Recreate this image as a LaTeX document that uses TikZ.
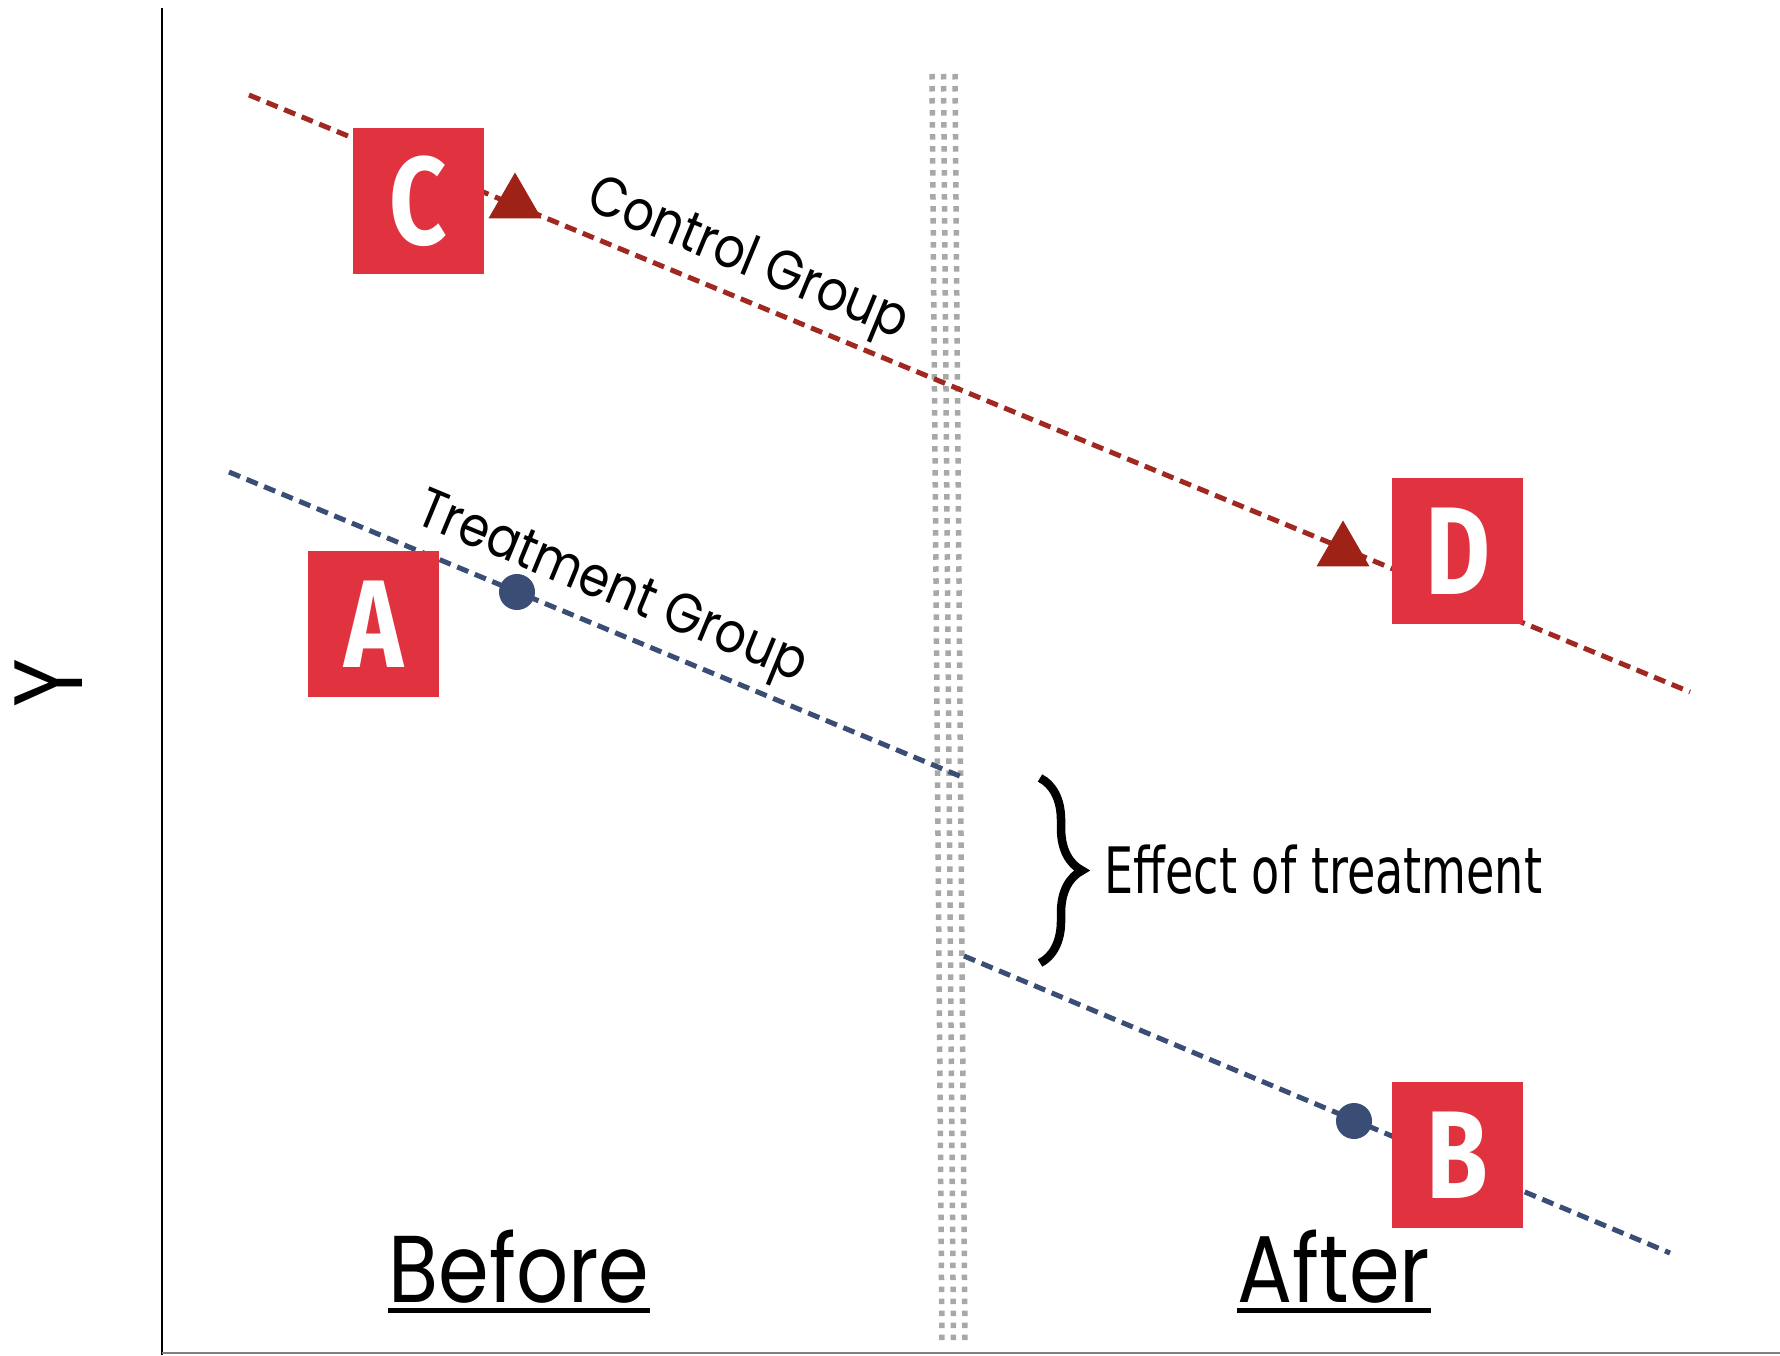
\documentclass[tikz,border=0pt]{standalone}
\usepackage{fontspec}
\usetikzlibrary{decorations.pathreplacing,shapes.geometric}
\newfontfamily\gothic{Poppins}[FakeStretch=0.86]
\newfontfamily\boxfont{Fira Sans}[FakeStretch=0.8]
\newfontfamily\narrowfont{DejaVu Sans}[FakeStretch=0.72]
\definecolor{ctrlred}{HTML}{A02820}
\definecolor{treatblue}{HTML}{3A4D75}
\definecolor{labelred}{HTML}{E1333F}
\definecolor{markred}{HTML}{9E2316}
\definecolor{bandgray}{HTML}{A8A8A8}
\tikzset{
  letterbox/.style={fill=labelred, text=white, minimum width=1.31cm, minimum height=1.46cm,
    inner sep=0pt, font=\boxfont\bfseries\fontsize{35.5}{35.5}\selectfont},
  ctrlline/.style={ctrlred, line width=0.05cm, dash pattern=on 0.12cm off 0.07cm},
  treatline/.style={treatblue, line width=0.05cm, dash pattern=on 0.12cm off 0.07cm},
  tri/.style={regular polygon, regular polygon sides=3, fill=markred, minimum size=0.61cm, inner sep=0pt},
  dot/.style={circle, fill=treatblue, minimum size=0.36cm, inner sep=0pt},
  grouplabel/.style={anchor=base, rotate=-22.5, inner sep=0pt, font=\gothic\fontsize{16}{16}\selectfont},
  periodlabel/.style={anchor=base west, inner sep=0pt, font=\gothic\fontsize{27}{27}\selectfont},
  underline/.style={line width=0.05cm}
}
\begin{document}
\begin{tikzpicture}[x=0.01cm, y=-0.01cm]
  \useasboundingbox[fill=white] (0,0) rectangle (1780,1355);
  \foreach \dx in {0,11.5,23}
    \draw[bandgray, line width=0.055cm, dash pattern=on 0.055cm off 0.065cm] (932+\dx,74) -- (942+\dx,1345);
  \draw[line width=0.02cm] (162,8) -- (162,1355);
  \draw[gray, line width=0.02cm] (162,1353) -- (1780,1353);
  \node[rotate=90, inner sep=0pt, font=\gothic\fontsize{27.6}{27.6}\selectfont] (y) at (49,683) {Y};

  \coordinate (c0) at (249,95);
  \coordinate (c1) at (1690,692);
  \coordinate (t0) at (229,472);
  \coordinate (t1) at (962,777);
  \coordinate (t2) at (964,956);
  \coordinate (t3) at (1670,1253);
  \draw[ctrlline] (c0) -- (c1);
  \draw[treatline] (t0) -- (t1);
  \draw[treatline] (t2) -- (t3);

  \node[tri] (cmark) at (515,203) {};
  \node[tri] (dmark) at (1343,551) {};
  \node[dot] (amark) at (517,592) {};
  \node[dot] (bmark) at (1354,1121) {};

  \node[letterbox] (C) at (418.5,201) {C};
  \node[letterbox] (D) at (1457.5,551) {D};
  \node[letterbox] (A) at (373.5,624) {A};
  \node[letterbox] (B) at (1457.5,1155) {B};

  \node[grouplabel] (control) at (742,274) {Control Group};
  \node[grouplabel] (treatment) at (606,602) {Treatment Group};

  \draw[decorate, decoration={brace, amplitude=0.42cm}, line width=0.085cm] (1040,778) -- (1040,963);
  \node[anchor=base west, inner sep=0pt, font=\narrowfont\fontsize{18.2}{18.2}\selectfont] (effect) at (1104,893) {Effect of treatment};

  \node[periodlabel] (before) at (388,1302) {Before};
  \node[periodlabel] (after) at (1237,1302) {After};
  \draw[underline] ([yshift=-0.08cm]before.base west) -- ([yshift=-0.08cm]before.base east);
  \draw[underline] ([yshift=-0.08cm]after.base west) -- ([yshift=-0.08cm]after.base east);
\end{tikzpicture}
\end{document}
